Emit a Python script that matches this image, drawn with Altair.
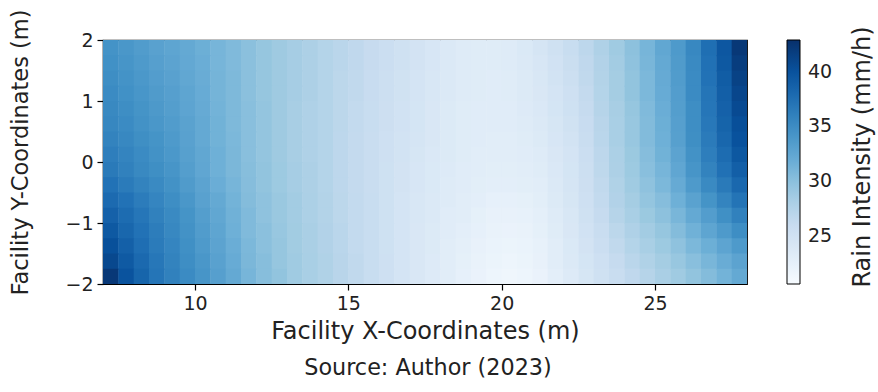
import altair as alt
import numpy as np
import pandas as pd

# Grid cell centres (m)
x_centers = [7.25, 7.75, 8.25, 8.75, 9.25, 9.75, 10.25, 10.75, 11.25, 11.75,
             12.25, 12.75, 13.25, 13.75, 14.25, 14.75, 15.25, 15.75, 16.25, 16.75,
             17.25, 17.75, 18.25, 18.75, 19.25, 19.75, 20.25, 20.75, 21.25, 21.75,
             22.25, 22.75, 23.25, 23.75, 24.25, 24.75, 25.25, 25.75, 26.25, 26.75,
             27.25, 27.75]
y_centers = [1.875, 1.625, 1.375, 1.125, 0.875, 0.625, 0.375, 0.125,
             -0.125, -0.375, -0.625, -0.875, -1.125, -1.375, -1.625, -1.875]

# Rain intensity (mm/h), one row per y centre, top to bottom
rain = [
    [34.4, 34.0, 33.5, 33.0, 32.6, 32.2, 31.7, 31.1, 30.6, 30.0, 29.4, 28.9, 28.4, 27.9,
     27.4, 27.0, 26.6, 26.1, 25.6, 25.1, 24.7, 24.2, 23.7, 23.4, 23.3, 23.3, 23.4, 23.8,
     24.4, 25.1, 25.9, 26.8, 27.8, 28.8, 29.9, 31.1, 32.4, 33.7, 35.4, 37.5, 39.6, 42.2],
    [34.6, 34.2, 33.7, 33.2, 32.8, 32.3, 31.8, 31.1, 30.6, 30.0, 29.4, 28.9, 28.4, 27.9,
     27.4, 27.0, 26.6, 26.1, 25.6, 25.1, 24.7, 24.2, 23.7, 23.4, 23.3, 23.3, 23.4, 23.7,
     24.2, 24.9, 25.7, 26.6, 27.6, 28.6, 29.8, 31.0, 32.2, 33.6, 35.2, 37.3, 39.4, 41.8],
    [34.9, 34.4, 33.9, 33.4, 33.0, 32.4, 31.9, 31.2, 30.7, 30.0, 29.4, 28.9, 28.4, 27.9,
     27.4, 26.9, 26.5, 26.0, 25.5, 25.0, 24.6, 24.1, 23.7, 23.4, 23.3, 23.2, 23.3, 23.6,
     24.1, 24.8, 25.5, 26.5, 27.5, 28.5, 29.6, 30.8, 32.1, 33.5, 35.1, 37.2, 39.1, 41.4],
    [35.1, 34.6, 34.1, 33.6, 33.2, 32.6, 32.0, 31.2, 30.7, 30.0, 29.4, 28.9, 28.4, 27.9,
     27.4, 26.9, 26.5, 26.0, 25.5, 25.0, 24.6, 24.1, 23.7, 23.4, 23.3, 23.2, 23.3, 23.6,
     24.0, 24.6, 25.3, 26.3, 27.4, 28.5, 29.6, 30.8, 32.0, 33.4, 35.1, 37.0, 38.9, 41.0],
    [35.3, 34.9, 34.3, 33.8, 33.3, 32.7, 32.1, 31.3, 30.7, 30.1, 29.5, 28.9, 28.3, 27.8,
     27.4, 26.9, 26.4, 25.9, 25.4, 24.9, 24.5, 24.0, 23.6, 23.3, 23.2, 23.2, 23.2, 23.5,
     23.9, 24.5, 25.2, 26.2, 27.3, 28.3, 29.4, 30.6, 31.8, 33.3, 34.9, 36.9, 38.7, 40.7],
    [35.5, 35.1, 34.5, 34.0, 33.5, 32.9, 32.2, 31.4, 30.7, 30.1, 29.5, 28.9, 28.3, 27.8,
     27.4, 26.9, 26.4, 25.9, 25.4, 24.9, 24.5, 24.0, 23.6, 23.3, 23.2, 23.2, 23.2, 23.4,
     23.7, 24.3, 25.0, 26.0, 27.1, 28.2, 29.3, 30.5, 31.7, 33.2, 34.9, 36.7, 38.5, 40.3],
    [35.8, 35.4, 34.8, 34.3, 33.7, 33.0, 32.2, 31.4, 30.8, 30.1, 29.5, 28.9, 28.3, 27.8,
     27.4, 26.8, 26.3, 25.8, 25.3, 24.8, 24.4, 24.0, 23.6, 23.3, 23.2, 23.1, 23.1, 23.3,
     23.6, 24.2, 24.8, 25.8, 27.0, 28.2, 29.3, 30.5, 31.6, 33.1, 34.8, 36.5, 38.2, 40.0],
    [36.2, 35.7, 35.1, 34.5, 33.9, 33.1, 32.4, 31.6, 30.9, 30.1, 29.5, 28.9, 28.3, 27.8,
     27.4, 26.8, 26.3, 25.8, 25.3, 24.8, 24.3, 23.9, 23.6, 23.3, 23.1, 23.0, 23.0, 23.2,
     23.4, 24.0, 24.6, 25.6, 26.8, 28.0, 29.1, 30.3, 31.4, 32.8, 34.5, 36.2, 37.8, 39.5],
    [36.6, 36.0, 35.3, 34.8, 34.2, 33.3, 32.5, 31.6, 30.9, 30.2, 29.6, 29.0, 28.4, 27.9,
     27.4, 26.8, 26.3, 25.8, 25.2, 24.7, 24.2, 23.8, 23.5, 23.2, 23.0, 22.9, 22.9, 23.1,
     23.3, 23.9, 24.5, 25.5, 26.7, 27.9, 29.0, 30.1, 31.1, 32.5, 34.2, 35.8, 37.3, 38.9],
    [37.2, 36.5, 35.8, 35.2, 34.5, 33.6, 32.8, 31.8, 31.1, 30.3, 29.6, 29.0, 28.4, 27.9,
     27.4, 26.8, 26.3, 25.8, 25.2, 24.7, 24.2, 23.8, 23.4, 23.2, 22.9, 22.8, 22.8, 22.9,
     23.1, 23.7, 24.4, 25.4, 26.5, 27.7, 28.8, 29.8, 30.8, 32.1, 33.7, 35.2, 36.6, 38.1],
    [37.9, 37.2, 36.4, 35.6, 34.9, 34.0, 33.0, 32.2, 31.3, 30.4, 29.8, 29.2, 28.6, 28.0,
     27.5, 26.9, 26.4, 25.9, 25.2, 24.6, 24.1, 23.7, 23.4, 23.0, 22.8, 22.5, 22.5, 22.6,
     22.9, 23.6, 24.3, 25.3, 26.4, 27.6, 28.5, 29.5, 30.3, 31.6, 32.9, 34.3, 35.7, 37.1],
    [38.7, 37.8, 36.9, 36.0, 35.2, 34.3, 33.3, 32.4, 31.5, 30.6, 29.8, 29.2, 28.6, 28.0,
     27.5, 26.9, 26.4, 25.9, 25.2, 24.6, 24.1, 23.7, 23.2, 23.0, 22.6, 22.3, 22.3, 22.4,
     22.7, 23.4, 24.1, 25.1, 26.2, 27.3, 28.2, 29.1, 29.9, 31.0, 32.2, 33.4, 34.7, 36.0],
    [39.4, 38.2, 37.2, 36.3, 35.4, 34.5, 33.5, 32.6, 31.6, 30.6, 30.0, 29.3, 28.7, 28.1,
     27.6, 27.0, 26.4, 25.9, 25.2, 24.6, 24.0, 23.6, 23.2, 22.8, 22.5, 22.2, 22.1, 22.2,
     22.6, 23.3, 24.0, 24.9, 25.8, 26.9, 27.8, 28.6, 29.4, 30.4, 31.5, 32.6, 33.7, 34.9],
    [40.2, 38.8, 37.6, 36.5, 35.6, 34.7, 33.7, 32.8, 31.8, 30.8, 30.0, 29.4, 28.7, 28.1,
     27.6, 27.0, 26.4, 25.9, 25.2, 24.6, 24.0, 23.6, 23.1, 22.7, 22.3, 22.0, 21.9, 22.0,
     22.4, 23.1, 23.8, 24.7, 25.6, 26.5, 27.4, 28.2, 29.0, 29.8, 30.8, 31.7, 32.7, 33.7],
    [40.9, 39.3, 38.0, 36.8, 35.8, 34.9, 34.0, 33.0, 32.0, 30.9, 30.2, 29.4, 28.8, 28.2,
     27.7, 27.1, 26.5, 25.9, 25.3, 24.6, 24.0, 23.5, 23.0, 22.6, 22.2, 21.9, 21.7, 21.9,
     22.3, 23.0, 23.7, 24.5, 25.3, 26.2, 27.0, 27.7, 28.5, 29.3, 30.1, 31.0, 31.9, 32.8],
    [42.2, 39.9, 38.4, 37.0, 36.0, 35.1, 34.2, 33.2, 32.2, 31.1, 30.2, 29.6, 28.8, 28.2,
     27.7, 27.1, 26.5, 25.9, 25.3, 24.6, 24.0, 23.5, 23.0, 22.5, 22.1, 21.7, 21.5, 21.7,
     22.1, 22.8, 23.5, 24.3, 25.1, 25.8, 26.6, 27.3, 28.1, 28.8, 29.6, 30.4, 31.3, 32.2],
]

x_ticks = [10, 15, 20, 25]
y_ticks = [-2, -1, 0, 1, 2]
cbar_ticks = [25, 30, 35, 40]
v_min, v_max = 20.6, 42.9

# matplotlib "Blues" colour stops
blues = ["#f7fbff", "#deebf7", "#c6dbef", "#9ecae1", "#6baed6",
         "#4292c6", "#2171b5", "#08519c", "#08306b"]

# cells overlap by a hair so no hairline seams show between neighbours
dx = (x_centers[1] - x_centers[0]) / 2
dy = (y_centers[0] - y_centers[1]) / 2
seam = 0.015
records = []
for yc, row in zip(y_centers, rain):
    for xc, v in zip(x_centers, row):
        records.append({"x0": xc - dx, "x1": xc + dx + seam,
                        "y0": yc - dy - seam, "y1": yc + dy, "v": v})
df = pd.DataFrame(records)

color_scale = alt.Scale(domain=list(np.linspace(v_min, v_max, len(blues))), range=blues,
                        interpolate="rgb", clamp=True)

TICK_FONT = "DejaVu Sans"
LABEL_FONT = "DejaVu Sans"
INK = "#222222"

heat = alt.Chart(df).mark_rect(clip=True).encode(
    x=alt.X("x0:Q", scale=alt.Scale(domain=[7, 28], nice=False, zero=False),
            axis=alt.Axis(values=x_ticks, title="Facility X-Coordinates (m)",
                          titleY=47, titleBaseline="middle")),
    x2="x1:Q",
    y=alt.Y("y0:Q", scale=alt.Scale(domain=[-2, 2], nice=False, zero=False),
            axis=alt.Axis(values=y_ticks, title="Facility Y-Coordinates (m)",
                          titleX=-83, titleY=112, titleAngle=270, titleFontSize=22.5,
                          titleAlign="center", titleBaseline="middle")),
    y2="y1:Q",
    color=alt.Color("v:Q", scale=color_scale,
                    legend=alt.Legend(type="gradient", title=None, values=cbar_ticks,
                                      orient="none", legendX=684, legendY=0,
                                      direction="vertical", gradientLength=244,
                                      gradientThickness=13, gradientStrokeColor="black",
                                      gradientStrokeWidth=1, labelFontSize=19,
                                      labelFont=TICK_FONT, labelColor=INK,
                                      labelOffset=8)),
)

labels = pd.DataFrame({"t": ["Source: Author (2023)", "Rain Intensity (mm/h)"]})

source = alt.Chart(labels.iloc[[0]]).mark_text(
    font=LABEL_FONT, fontSize=22.3, color=INK, baseline="middle", align="center"
).encode(x=alt.value(325), y=alt.value(328), text="t:N")

cbar_title = alt.Chart(labels.iloc[[1]]).mark_text(
    font=LABEL_FONT, fontSize=24, color=INK, baseline="middle", align="center", angle=270
).encode(x=alt.value(760), y=alt.value(117), text="t:N")

chart = alt.layer(heat, source, cbar_title).properties(
    width=644, height=244,
    autosize=alt.AutoSizeParams(type="none"),
    padding={"left": 103, "top": 40, "right": 131, "bottom": 108},
).configure_view(
    stroke="black", strokeWidth=1.2
).configure_axis(
    grid=False, domain=False, tickColor="black", tickSize=6, tickWidth=1.2,
    labelFont=TICK_FONT, labelFontSize=19, labelColor=INK, labelPadding=4,
    titleFont=LABEL_FONT, titleFontSize=24, titleFontWeight="normal", titleColor=INK,
)

chart.save("out.html", embed_options={"renderer": "svg", "actions": False})
